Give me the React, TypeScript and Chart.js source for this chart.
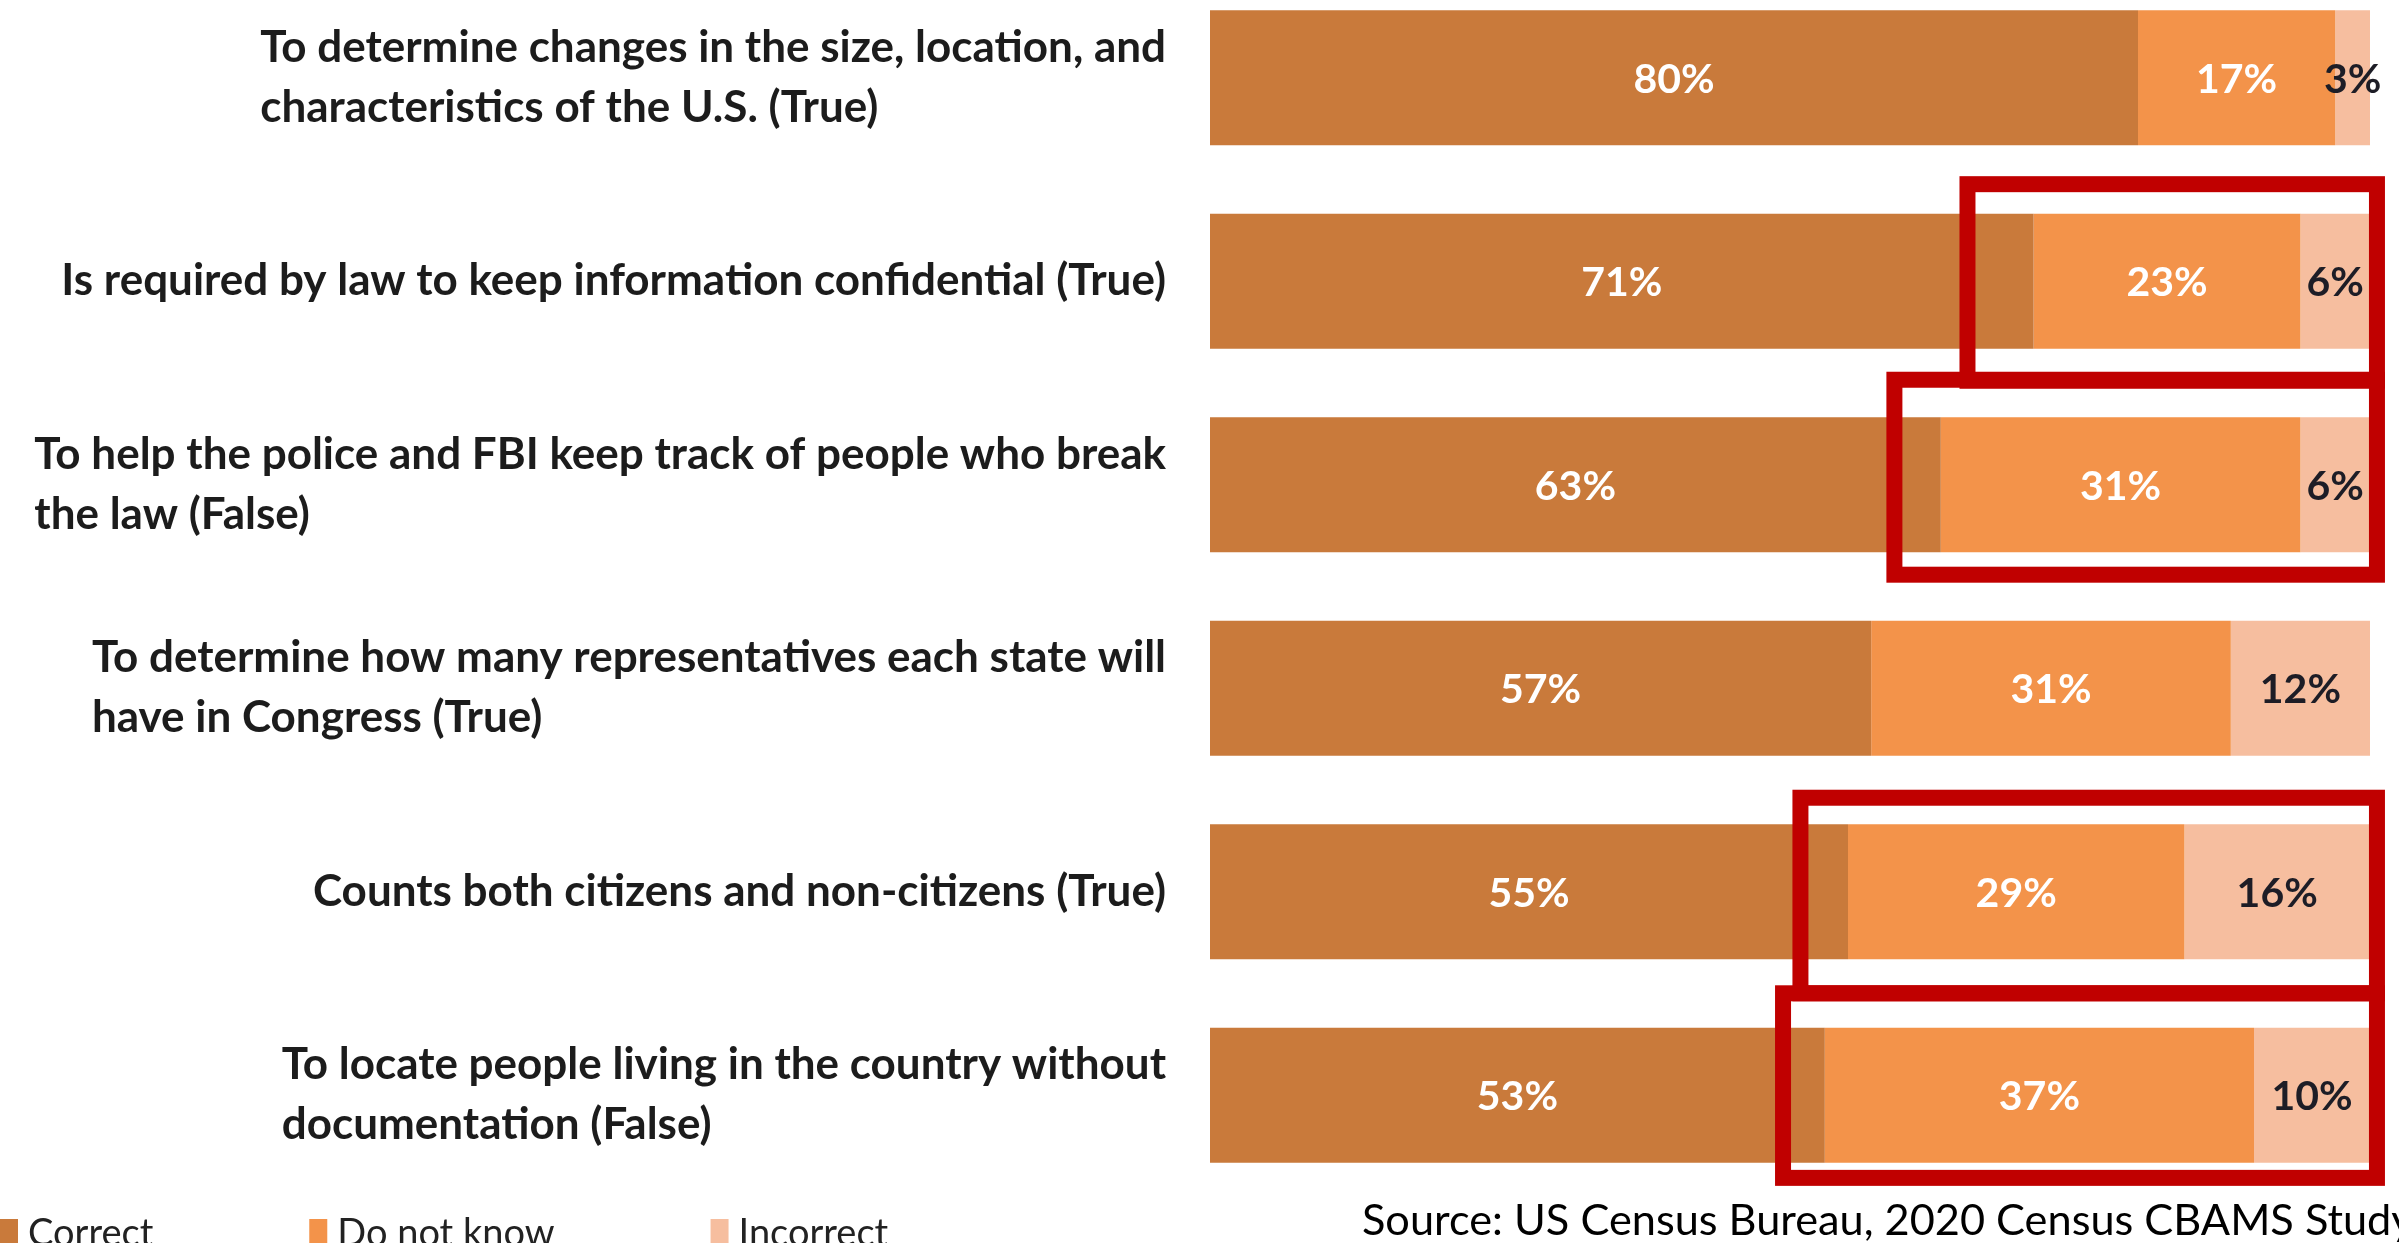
import React, { useEffect, useRef } from "react";
import { Chart, registerables } from "chart.js";

Chart.register(...registerables);

// ---------- data ----------
const categories: string[][] = [
  ["To determine changes in the size, location, and", "characteristics of the U.S. (True)"],
  ["Is required by law to keep information confidential (True)"],
  ["To help the police and FBI keep track of people who break", "the law (False)"],
  ["To determine how many representatives each state will", "have in Congress (True)"],
  ["Counts both citizens and non-citizens (True)"],
  ["To locate people living in the country without", "documentation (False)"],
];
const seriesNames = ["Correct", "Do not know", "Incorrect"];
const correct = [80, 71, 63, 57, 55, 53];
const doNotKnow = [17, 23, 31, 31, 29, 37];
const incorrect = [3, 6, 6, 12, 16, 10];

// highlighted rows (red outline), in data units
const highlightRows = [1, 2, 4, 5];
const highlightStart = [65.3, 59.0, 50.9, 49.4];
const highlightEnd = [100.6, 100.6, 100.6, 100.6];
const highlightTop = [-0.477, -0.516, -0.462, -0.501];
const highlightBottom = [0.489, 0.442, 0.499, 0.406];

const sourceNote = "Source: US Census Bureau, 2020 Census CBAMS Study";

// ---------- styles ----------
const COLORS = ["#C97A3B", "#F3934A", "#F6BE9F"];
const LABEL_FONT = "bold 44px Lato";
const VALUE_FONT = "bold 41px Lato";
const LEGEND_FONT = "38px Lato";
const RED = "#C00000";

const overlayPlugin = {
  id: "overlay",
  afterDatasetsDraw(chart: any) {
    const ctx: CanvasRenderingContext2D = chart.ctx;
    const xs = chart.scales.x;
    const ys = chart.scales.y;

    // value labels
    chart.data.datasets.forEach((ds: any, di: number) => {
      const meta = chart.getDatasetMeta(di);
      meta.data.forEach((el: any, i: number) => {
        const p = el.getProps(["x", "y", "base"], true);
        const v = ds.data[i];
        ctx.save();
        ctx.font = VALUE_FONT;
        ctx.fillStyle = di < 2 ? "#FFFFFF" : "#1D1D26";
        ctx.textAlign = "center";
        ctx.textBaseline = "middle";
        ctx.fillText(v + "%", (p.x + p.base) / 2, p.y + 2);
        ctx.restore();
      });
    });

    // category labels: block right-aligned to the axis, lines left-aligned
    ctx.save();
    ctx.font = LABEL_FONT;
    ctx.fillStyle = "#1C1C1C";
    ctx.textBaseline = "middle";
    ctx.textAlign = "left";
    const right = xs.left - 44;
    const lh = 60;
    (chart.data.labels as string[][]).forEach((lines, i) => {
      const cy = ys.getPixelForValue(i);
      const w = Math.max(...lines.map((l) => ctx.measureText(l).width));
      lines.forEach((l, j) => {
        ctx.fillText(l, right - w, cy + (j - (lines.length - 1) / 2) * lh);
      });
    });
    ctx.restore();

    // legend (bottom, partially cut by the page edge)
    ctx.save();
    ctx.font = LEGEND_FONT;
    ctx.textBaseline = "top";
    ctx.textAlign = "left";
    let lx = 0;
    const ly = ys.bottom + 18;
    chart.data.datasets.forEach((ds: any) => {
      ctx.fillStyle = ds.backgroundColor;
      ctx.fillRect(lx, ly + 4, 18, 30);
      ctx.fillStyle = "#222222";
      ctx.fillText(ds.label, lx + 28, ly);
      lx += 28 + ctx.measureText(ds.label).width + 156;
    });
    ctx.restore();

    // red highlight boxes
    ctx.save();
    ctx.strokeStyle = RED;
    ctx.lineWidth = 16;
    highlightRows.forEach((row, k) => {
      const x1 = xs.getPixelForValue(highlightStart[k]);
      const x2 = xs.getPixelForValue(highlightEnd[k]);
      const y1 = ys.getPixelForValue(row + highlightTop[k]);
      const y2 = ys.getPixelForValue(row + highlightBottom[k]);
      ctx.strokeRect(x1, y1, x2 - x1, y2 - y1);
    });
    ctx.restore();
  },
};

export default function App() {
  const canvasRef = useRef<HTMLCanvasElement | null>(null);

  useEffect(() => {
    if (!canvasRef.current) return;
    const chart = new Chart(canvasRef.current, {
      type: "bar",
      data: {
        labels: categories as any,
        datasets: [
          { label: seriesNames[0], data: correct, backgroundColor: COLORS[0] },
          { label: seriesNames[1], data: doNotKnow, backgroundColor: COLORS[1] },
          { label: seriesNames[2], data: incorrect, backgroundColor: COLORS[2] },
        ],
      },
      options: {
        indexAxis: "y",
        animation: false,
        responsive: true,
        maintainAspectRatio: false,
        layout: { padding: { left: 1210, right: 29, top: 0, bottom: 79 } },
        datasets: {
          bar: { categoryPercentage: 0.664, barPercentage: 1, borderWidth: 0 },
        } as any,
        scales: {
          x: { stacked: true, min: 0, max: 100, display: false },
          y: { stacked: true, display: false },
        },
        plugins: {
          legend: { display: false },
          tooltip: { enabled: false },
          title: { display: false },
        },
      },
      plugins: [overlayPlugin],
    });
    return () => chart.destroy();
  }, []);

  return (
    <div
      style={{
        position: "fixed",
        left: 0,
        top: 0,
        width: 2399,
        height: 1243,
        overflow: "hidden",
        background: "#FFFFFF",
      }}
    >
      <div style={{ position: "absolute", left: 0, top: -24, width: 2399, height: 1300 }}>
        <canvas ref={canvasRef} />
      </div>
      <div
        style={{
          position: "absolute",
          left: 1362,
          top: 1196,
          font: "43.3px Lato",
          lineHeight: "44px",
          color: "#000000",
          whiteSpace: "nowrap",
        }}
      >
        {sourceNote}
      </div>
    </div>
  );
}
